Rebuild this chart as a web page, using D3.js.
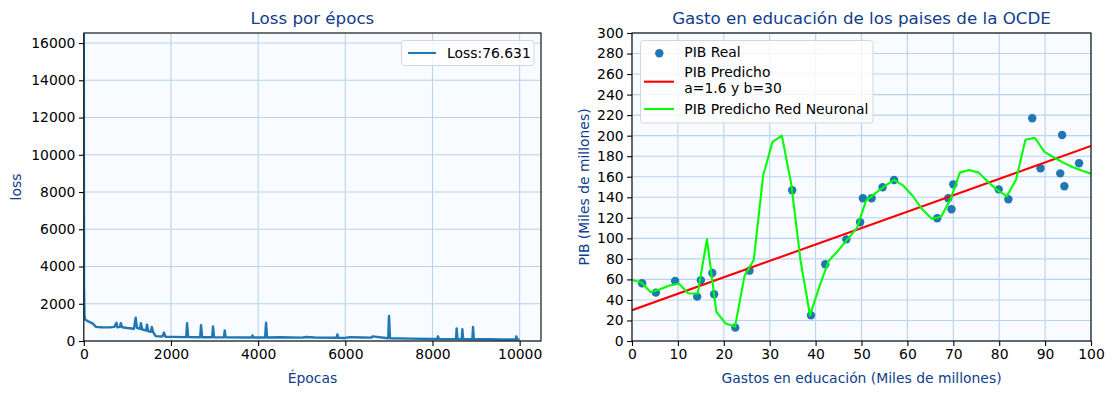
<!DOCTYPE html>
<html><head><meta charset="utf-8">
<script src="https://cdn.jsdelivr.net/npm/d3@7/dist/d3.min.js"></script>
<style>
body{margin:0;background:#fff;}
text{font-family:"DejaVu Sans",sans-serif;}
</style>
</head><body>
<svg id="c" width="1113" height="396"></svg>
<script>
// ---------- DATA ----------
const lossEpochs = [0,5,15,30,100,200,280,400,600,700,750,770,830,850,880,1000,1150,1190,1220,1290,1310,1340,1380,1430,1450,1480,1540,1560,1590,1650,1800,1840,1870,2000,2350,2370,2395,2670,2690,2715,2945,2965,2990,3215,3234,3255,3850,3870,3890,4160,4182,4205,4500,5000,5100,5300,5800,5818,5840,6000,6100,6400,6600,6620,6985,7003,7025,7500,8000,8110,8127,8145,8540,8555,8575,8670,8685,8705,8915,8930,8950,9300,9600,9910,9924,9940,9999];
const lossValues = [16500,3000,1400,1150,1050,950,760,740,730,760,980,740,760,960,740,700,660,1250,700,650,950,620,600,560,880,520,500,760,480,260,240,450,230,220,210,950,210,200,850,200,200,780,195,195,570,195,190,300,190,185,980,185,200,180,215,190,175,350,170,165,210,190,180,250,150,1350,150,130,110,110,250,110,100,680,100,100,630,100,95,750,95,90,80,80,250,80,77];
const lossXTicks = [0,2000,4000,6000,8000,10000];
const lossYTicks = [0,2000,4000,6000,8000,10000,12000,14000,16000];

const gastoX = [2.2,5.2,9.4,14.2,15.0,17.5,17.9,22.5,25.6,34.9,39.0,42.1,46.7,49.7,50.3,52.2,54.6,57.1,66.5,68.9,69.6,70.0,79.9,82.0,87.2,89.0,93.3,93.7,94.2,97.4];
const pibY   = [56.2,47.1,58.4,43.2,59.1,66.2,45.5,13.0,68.5,146.8,25.0,74.7,99.0,115.6,139,139,149.7,156.8,119.5,139,128.3,152.6,147.7,138,216.9,168.2,163.3,200.6,150.7,173.1];

const nnX = [0,2.04,4.08,6.12,8.16,10.2,12.24,14.29,16.33,18.37,20.41,22.45,24.49,26.53,28.57,30.61,32.65,34.69,36.73,38.78,40.82,42.86,44.9,46.94,48.98,51.02,53.06,55.1,57.14,59.18,61.22,63.27,65.31,67.35,69.39,71.43,73.47,75.51,77.55,79.59,81.63,83.67,85.71,87.76,89.8,91.84,93.88,95.92,97.96,100];
const nnY = [59.5,57,47.5,50.5,54,56,46.5,46,99,28.5,17,14,63,79,161,194,200,153,78,25,53,78,88,99,110,137,144,151,157,151,141,128,119,121,138,164,166.5,164,155,147,141,157,196,198,184.5,179,174,169.5,166,163];

const fitA = 1.6, fitB = 30;
const fitX = [0,100];

const rXTicks = [0,10,20,30,40,50,60,70,80,90,100];
const rYTicks = [0,20,40,60,80,100,120,140,160,180,200,220,240,260,280,300];

// ---------- STYLE ----------
const blue = "#1f77b4", titleCol = "#0e3d8b", gridCol = "#b9d3f0", bg = "#f8fbff";
const fs = 13.9, tfs = 16.7;

const svg = d3.select("#c");

function panel(x0, x1, y0, y1, xDom, yDom, xT, yT) {
  const g = svg.append("g");
  const x = d3.scaleLinear().domain(xDom).range([x0, x1]);
  const y = d3.scaleLinear().domain(yDom).range([y1, y0]);
  g.append("rect").attr("x", x0).attr("y", y0).attr("width", x1 - x0).attr("height", y1 - y0).attr("fill", bg);
  const grid = g.append("g");
  grid.selectAll(".vx").data(xT).join("line")
    .attr("x1", d => x(d)).attr("x2", d => x(d)).attr("y1", y0).attr("y2", y1)
    .attr("stroke", gridCol).attr("stroke-width", 1.1);
  grid.selectAll(".hy").data(yT).join("line")
    .attr("y1", d => y(d)).attr("y2", d => y(d)).attr("x1", x0).attr("x2", x1)
    .attr("stroke", gridCol).attr("stroke-width", 1.1);
  return {g, x, y};
}

function axes(p, x0, x1, y0, y1, xT, yT) {
  const ax = p.g.append("g").attr("transform", `translate(0,${y1})`)
    .call(d3.axisBottom(p.x).tickValues(xT).tickFormat(d3.format("d")).tickSize(4.9).tickPadding(3.5));
  const ay = p.g.append("g").attr("transform", `translate(${x0},0)`)
    .call(d3.axisLeft(p.y).tickValues(yT).tickFormat(d3.format("d")).tickSize(4.9).tickPadding(3.5));
  [ax, ay].forEach(a => {
    a.select(".domain").remove();
    a.selectAll("line").attr("stroke", "#000").attr("stroke-width", 1.1);
    a.selectAll("text").attr("font-size", fs).attr("font-family", "DejaVu Sans").attr("fill", "#000");
  });
  p.g.append("rect").attr("x", x0).attr("y", y0).attr("width", x1 - x0).attr("height", y1 - y0)
    .attr("fill", "none").attr("stroke", "#000").attr("stroke-width", 1.1);
}

// ---------- LEFT: loss ----------
{
  const x0 = 83.8, x1 = 541, y0 = 33, y1 = 341;
  const p = panel(x0, x1, y0, y1, [0, 10490], [0, 16540], lossXTicks, lossYTicks);
  p.g.append("defs").append("clipPath").attr("id", "clipL")
    .append("rect").attr("x", x0).attr("y", y0).attr("width", x1 - x0).attr("height", y1 - y0);
  const pts = lossEpochs.map((e, i) => [e, lossValues[i]]);
  p.g.append("path").datum(pts).attr("clip-path", "url(#clipL)")
    .attr("d", d3.line().x(d => p.x(d[0])).y(d => p.y(d[1])))
    .attr("fill", "none").attr("stroke", blue).attr("stroke-width", 2.4).attr("stroke-linejoin", "round");
  axes(p, x0, x1, y0, y1, lossXTicks, lossYTicks);
  svg.append("text").attr("x", (x0 + x1) / 2).attr("y", 24).attr("text-anchor", "middle")
    .attr("font-size", tfs).attr("fill", titleCol).text("Loss por épocs");
  svg.append("text").attr("x", (x0 + x1) / 2).attr("y", 383).attr("text-anchor", "middle")
    .attr("font-size", fs).attr("fill", titleCol).text("Épocas");
  svg.append("text").attr("transform", `translate(21,${(y0 + y1) / 2}) rotate(-90)`).attr("text-anchor", "middle")
    .attr("font-size", fs).attr("fill", titleCol).text("loss");
  // legend
  const lg = svg.append("g");
  lg.append("rect").attr("x", 401.5).attr("y", 40.5).attr("width", 132.5).attr("height", 25).attr("rx", 3)
    .attr("fill", "#fff").attr("fill-opacity", 0.8).attr("stroke", "#d6d6d6");
  lg.append("line").attr("x1", 408).attr("x2", 436).attr("y1", 53).attr("y2", 53).attr("stroke", blue).attr("stroke-width", 2.1);
  lg.append("text").attr("x", 447).attr("y", 58).attr("font-size", fs).attr("fill", "#000").text("Loss:76.631");
}

// ---------- RIGHT: scatter ----------
{
  const x0 = 632, x1 = 1091, y0 = 33, y1 = 341;
  const p = panel(x0, x1, y0, y1, [0, 100], [0, 300], rXTicks, rYTicks);
  p.g.append("defs").append("clipPath").attr("id", "clipR")
    .append("rect").attr("x", x0).attr("y", y0).attr("width", x1 - x0).attr("height", y1 - y0);
  const c = p.g.append("g").attr("clip-path", "url(#clipR)");
  c.selectAll("circle").data(gastoX.map((v, i) => [v, pibY[i]])).join("circle")
    .attr("cx", d => p.x(d[0])).attr("cy", d => p.y(d[1])).attr("r", 4.2).attr("fill", blue);
  c.append("path").datum(fitX.map(v => [v, fitA * v + fitB]))
    .attr("d", d3.line().x(d => p.x(d[0])).y(d => p.y(d[1])))
    .attr("fill", "none").attr("stroke", "#ff0000").attr("stroke-width", 2.1);
  c.append("path").datum(nnX.map((v, i) => [v, nnY[i]]))
    .attr("d", d3.line().x(d => p.x(d[0])).y(d => p.y(d[1])))
    .attr("fill", "none").attr("stroke", "#00ff00").attr("stroke-width", 2.1).attr("stroke-linejoin", "round");
  axes(p, x0, x1, y0, y1, rXTicks, rYTicks);
  svg.append("text").attr("x", (x0 + x1) / 2).attr("y", 24).attr("text-anchor", "middle")
    .attr("font-size", tfs).attr("fill", titleCol).text("Gasto en educación de los paises de la OCDE");
  svg.append("text").attr("x", (x0 + x1) / 2).attr("y", 383).attr("text-anchor", "middle")
    .attr("font-size", fs).attr("fill", titleCol).text("Gastos en educación (Miles de millones)");
  svg.append("text").attr("transform", `translate(589,${(y0 + y1) / 2}) rotate(-90)`).attr("text-anchor", "middle")
    .attr("font-size", fs).attr("fill", titleCol).text("PIB (Miles de millones)");
  // legend
  const lg = svg.append("g");
  lg.append("rect").attr("x", 640.5).attr("y", 40.5).attr("width", 232.5).attr("height", 82.5).attr("rx", 3)
    .attr("fill", "#fff").attr("fill-opacity", 0.8).attr("stroke", "#d6d6d6");
  lg.append("circle").attr("cx", 659.3).attr("cy", 53.3).attr("r", 4.2).attr("fill", blue);
  lg.append("text").attr("x", 684.3).attr("y", 56.5).attr("font-size", fs).text("PIB Real");
  lg.append("line").attr("x1", 644).attr("x2", 674).attr("y1", 81.7).attr("y2", 81.7).attr("stroke", "#ff0000").attr("stroke-width", 2.1);
  lg.append("text").attr("x", 684.3).attr("y", 77.3).attr("font-size", fs).text("PIB Predicho");
  lg.append("text").attr("x", 684.3).attr("y", 93.3).attr("font-size", fs).text("a=1.6 y b=30");
  lg.append("line").attr("x1", 644).attr("x2", 674).attr("y1", 109).attr("y2", 109).attr("stroke", "#00ff00").attr("stroke-width", 2.1);
  lg.append("text").attr("x", 684.3).attr("y", 114).attr("font-size", fs).text("PIB Predicho Red Neuronal");
}
</script>
</body></html>
